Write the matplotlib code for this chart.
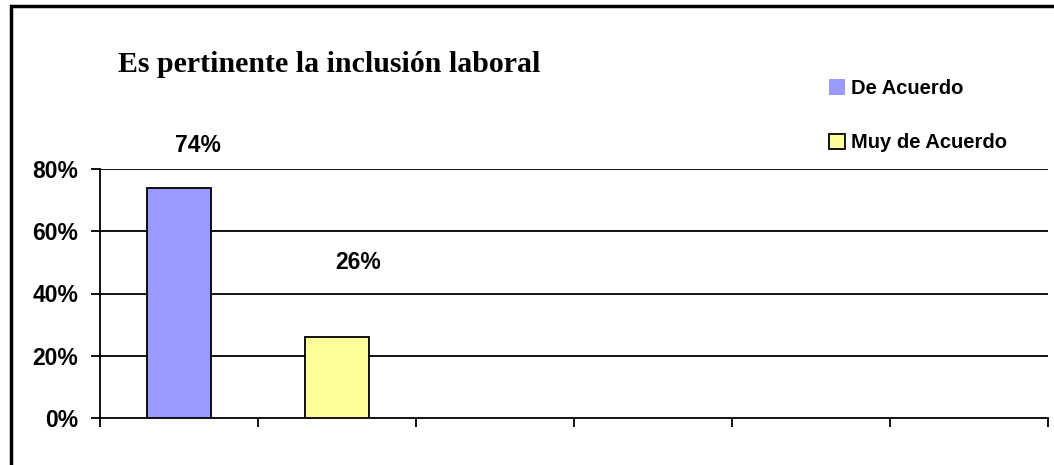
import matplotlib.pyplot as plt
from matplotlib.patches import Patch, Rectangle

# datos del grafico
categorias = ['De Acuerdo', 'Muy de Acuerdo']
valores = [74, 26]
etiquetas = ['74%', '26%']
colores = ['#9999FF', '#FFFF99']
y_ticks = [0, 20, 40, 60, 80]
n_slots = 6  # el eje x tiene 6 divisiones

fig = plt.figure(figsize=(10.54, 4.65), dpi=100)
ax = fig.add_axes([100/1054, 47/465, 948/1054, 249/465])

posiciones = list(range(len(valores)))
ax.bar(posiciones, valores, width=0.41, color=colores, edgecolor='black',
       linewidth=1.3, zorder=3)

# etiquetas de datos (desplazadas como en el original)
offsets = [(19, 42), (21, 75)]
for x, v, txt, off in zip(posiciones, valores, etiquetas, offsets):
    ax.annotate(txt, xy=(x, v), xytext=off, textcoords='offset pixels',
                ha='center', va='center', fontsize=16.5, fontweight='bold',
                family='Liberation Sans')

ax.set_xlim(-0.5, n_slots - 0.5)
ax.set_ylim(0, 80)
ax.set_yticks(y_ticks)
ax.set_yticklabels([f'{t}%' for t in y_ticks], fontsize=16.5, fontweight='bold',
                   family='Liberation Sans')
ax.set_xticks([i - 0.5 for i in range(n_slots + 1)])
ax.set_xticklabels([])
ax.tick_params(axis='both', direction='out', length=6.5, width=1.3, color='black')
ax.tick_params(axis='y', pad=9)

for t in y_ticks[1:]:
    ax.axhline(t, color='black', linewidth=1.3, zorder=1)

for s in ['top', 'right']:
    ax.spines[s].set_visible(False)
ax.spines['left'].set_linewidth(1.3)
ax.spines['bottom'].set_linewidth(1.3)

fig.text(118/1054, 1 - 72/465, 'Es pertinente la inclusión laboral',
         family='Liberation Serif', fontweight='bold', fontsize=21.5,
         va='baseline')

handles = [Patch(facecolor=colores[0], edgecolor='none'),
           Patch(facecolor=colores[1], edgecolor='black', linewidth=1.3)]
fig.legend(handles, categorias, loc='upper left',
           bbox_to_anchor=(829/1054, 1 - 79/465), frameon=False,
           prop={'family': 'Liberation Sans', 'weight': 'bold', 'size': 14.5},
           handlelength=0.8, handleheight=0.8, handletextpad=0.3,
           labelspacing=1.75, borderpad=0, borderaxespad=0)

# marco exterior
fig.patches.append(Rectangle((11/1054, -0.2), 1.2, 1 - 6/465 + 0.2,
                             transform=fig.transFigure, fill=False,
                             edgecolor='black', linewidth=2.5))

fig.savefig('out.png', dpi=100)
